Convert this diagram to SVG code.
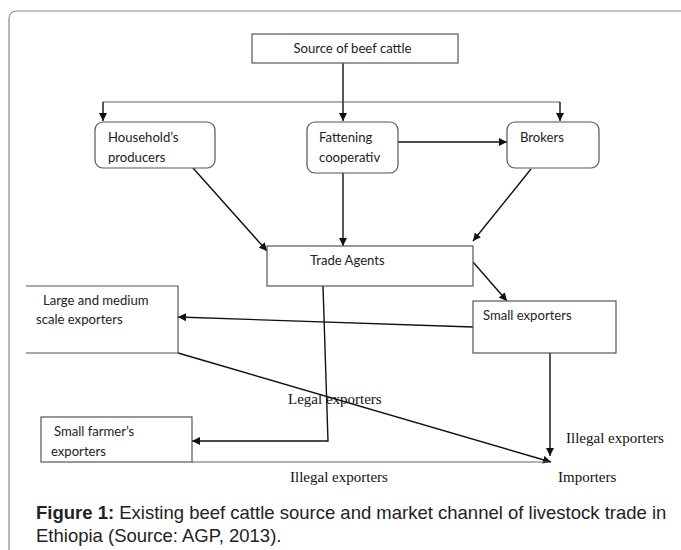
<svg xmlns="http://www.w3.org/2000/svg" width="681" height="550" viewBox="0 0 681 550">
<style>
.frame{fill:none;stroke:#8a8a8a;stroke-width:1.2}
.box{fill:#fff;stroke:#555;stroke-width:1.2}
.open{fill:none;stroke:#555;stroke-width:1.2}
.lbl{font-family:Lato,"Liberation Sans",sans-serif;font-size:13.1px;fill:#222}
.ser{font-family:"Liberation Serif",serif;font-size:15px;fill:#111}
.conn{fill:none;stroke:#111;stroke-width:1.4}
.thin{fill:none;stroke:#666;stroke-width:1.2}
.cap{font-family:"Liberation Sans",Arial,sans-serif;font-size:18.5px;fill:#222}
</style>
<defs>
<marker id="arr" viewBox="0 0 10 10" refX="10" refY="5" markerWidth="8" markerHeight="8" markerUnits="userSpaceOnUse" orient="auto">
<path d="M0,0 L10,5 L0,10 z" fill="#111"/>
</marker>
</defs>
<rect width="681" height="550" fill="#fff"/>
<path class="frame" d="M9,560 V19 Q9,11 17,11 H700"/>

<g id="connectors">
<line class="conn" x1="343" y1="63" x2="343" y2="102"/>
<path class="thin" d="M103,102 H560"/>
<line class="conn" x1="103" y1="102" x2="103" y2="121" marker-end="url(#arr)"/>
<line class="conn" x1="343" y1="102" x2="343" y2="121" marker-end="url(#arr)"/>
<line class="conn" x1="560" y1="102" x2="560" y2="121" marker-end="url(#arr)"/>
<line class="conn" x1="398" y1="142" x2="507" y2="142" marker-end="url(#arr)"/>
<line class="conn" x1="193" y1="168" x2="267" y2="251" marker-end="url(#arr)"/>
<line class="conn" x1="343" y1="173" x2="343" y2="246" marker-end="url(#arr)"/>
<line class="conn" x1="531" y1="169" x2="473" y2="241" marker-end="url(#arr)"/>
<line class="conn" x1="473" y1="262" x2="507" y2="301" marker-end="url(#arr)"/>
<line class="conn" x1="473" y1="327" x2="178" y2="317" marker-end="url(#arr)"/>
<path class="conn" d="M323,286 L328,441 H192" marker-end="url(#arr)"/>
<line class="conn" x1="178" y1="353" x2="551" y2="462" marker-end="url(#arr)"/>
<line class="conn" x1="550" y1="353" x2="550" y2="456" marker-end="url(#arr)"/>
<path class="thin" d="M192,462 H548"/>
</g>

<g id="source">
<rect class="box" x="252" y="34" width="206" height="29"/>
<text class="lbl" x="352.5" y="53" text-anchor="middle">Source of beef cattle</text>
</g>
<g id="household">
<rect class="box" x="95" y="122" width="120" height="46" rx="8"/>
<text class="lbl" x="108" y="142">Household’s</text>
<text class="lbl" x="108" y="162">producers</text>
</g>
<g id="fattening">
<rect class="box" x="307" y="122" width="91" height="51" rx="8"/>
<text class="lbl" x="319" y="142">Fattening</text>
<text class="lbl" x="319" y="162">cooperativ</text>
</g>
<g id="brokers">
<rect class="box" x="507" y="122" width="92" height="46" rx="8"/>
<text class="lbl" x="520" y="142">Brokers</text>
</g>
<g id="trade-agents">
<rect class="box" x="267" y="246" width="206" height="40"/>
<text class="lbl" x="310" y="265">Trade Agents</text>
</g>
<g id="small-exporters">
<rect class="box" x="473" y="301" width="143" height="52"/>
<text class="lbl" x="483" y="320">Small exporters</text>
</g>
<g id="large-medium">
<path class="open" d="M26,286 H178 V353 H26"/>
<text class="lbl" x="43" y="305">Large and medium</text>
<text class="lbl" x="36" y="324">scale exporters</text>
</g>
<g id="small-farmers">
<rect class="box" x="41" y="417" width="151" height="45"/>
<text class="lbl" x="54" y="436">Small farmer’s</text>
<text class="lbl" x="51" y="456">exporters</text>
</g>
<g id="importers">
<text class="ser" x="558" y="482">Importers</text>
</g>
<g id="labels">
<text class="ser" x="288" y="404">Legal exporters</text>
<text class="ser" x="566" y="443">Illegal exporters</text>
<text class="ser" x="290" y="482">Illegal exporters</text>
</g>
<g id="caption">
<text class="cap" x="36" y="519"><tspan font-weight="bold">Figure 1:</tspan> Existing beef cattle source and market channel of livestock trade in</text>
<text class="cap" x="36" y="542">Ethiopia (Source: AGP, 2013).</text>
</g>
</svg>
